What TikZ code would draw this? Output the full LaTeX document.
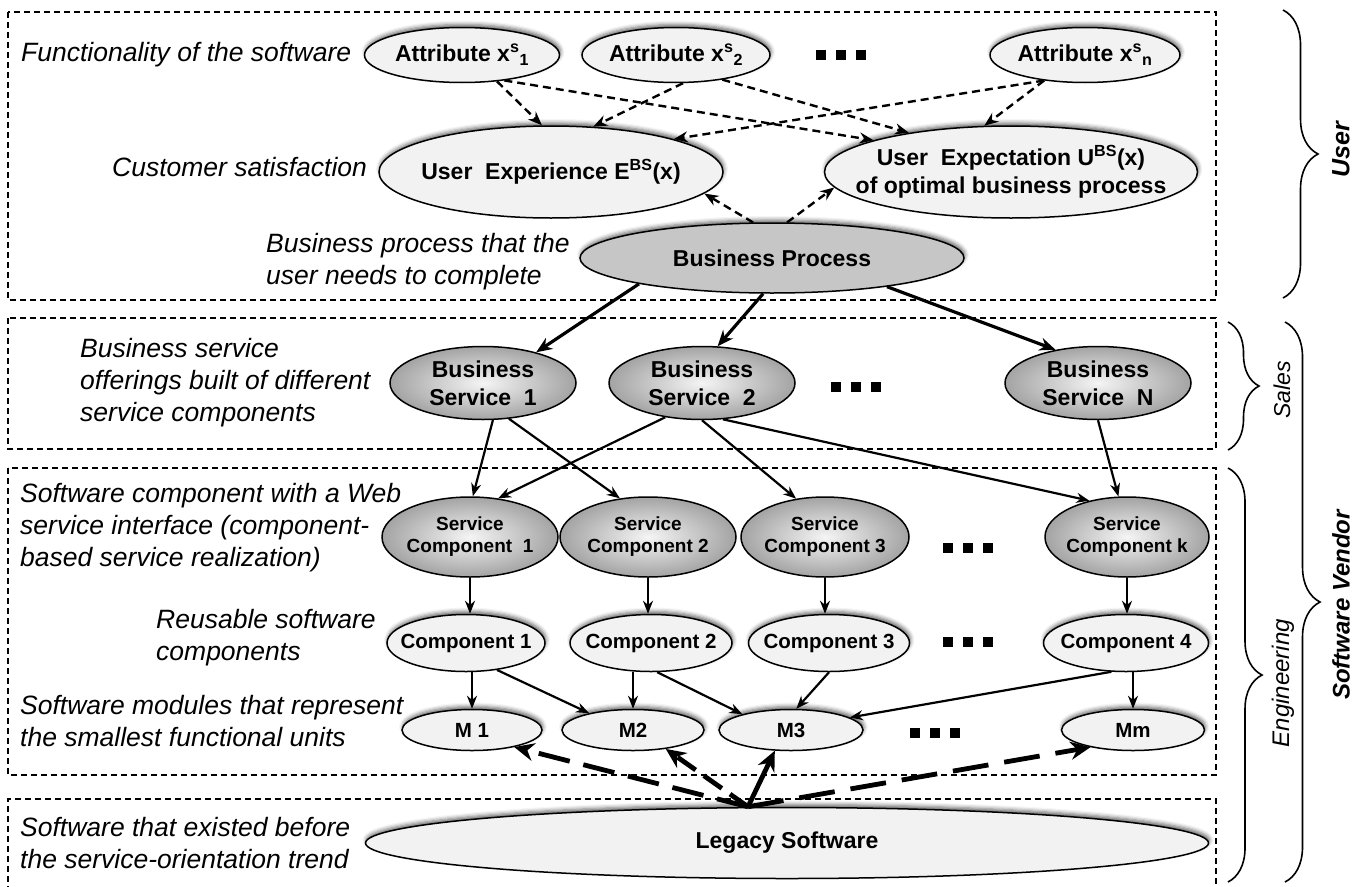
\documentclass[tikz,border=0pt]{standalone}
\usepackage{fontspec}
\setmainfont{Liberation Sans}
\usetikzlibrary{shapes.geometric,arrows.meta,decorations.pathreplacing,shadows.blur}
\newcommand\ndfont{\bfseries\fontsize{23}{28}\selectfont}
\newcommand\scpfont{\bfseries\fontsize{19}{22}\selectfont}
\newcommand\cmpfont{\bfseries\fontsize{20.5}{24}\selectfont}
\newcommand\lbfont{\itshape\fontsize{26.5}{32}\selectfont}
\newcommand\sqdots[2]{\foreach \dx in {-20,0,20}{\fill (#1+\dx-5,#2-5) rectangle ++(10,10);}}
\tikzset{
  shad/.style={blur shadow={shadow xshift=1pt, shadow yshift=3pt, shadow blur radius=4pt, shadow opacity=60}},
  lnode/.style={ellipse, draw, line width=1.5pt, fill=gray!10, inner xsep=-40pt, inner ysep=-2pt, align=center, font=\ndfont, shad},
  gnode/.style={ellipse, draw, line width=1.5pt, inner color=gray!8, outer color=gray!72, inner xsep=-40pt, inner ysep=-2pt, align=center, font=\ndfont},
  bpnode/.style={ellipse, draw, line width=1.5pt, fill=gray!45, inner xsep=-40pt, inner ysep=-2pt, align=center, font=\ndfont, shad},
  lab/.style={inner sep=0pt, anchor=west, align=left, font=\lbfont},
  box/.style={draw, line width=1.5pt, dash pattern=on 6pt off 4pt},
  darr/.style={line width=2.4pt, dash pattern=on 8pt off 5pt, -{Stealth[length=14pt,width=11pt]}},
  barr/.style={line width=3.2pt, -{Stealth[length=16pt,width=13pt]}},
  arr/.style={line width=2.2pt, -{Stealth[length=13pt,width=10pt]}},
  legarr/.style={line width=4.8pt, -{Stealth[length=20pt,width=18pt]}},
  brc/.style={draw, line width=1.6pt, decorate},
}
\begin{document}
\begin{tikzpicture}[x=1pt,y=-1pt]
\useasboundingbox (0,0) rectangle (1359,886);
% boxes
\draw[box] (8,12) rectangle (1216,300);
\draw[box] (8,318) rectangle (1216,449);
\draw[box] (8,468) rectangle (1216,775);
\draw[box] (8,892) -- (8,799) -- (1216,799) -- (1216,892);
% braces
\draw[brc, decoration={brace, amplitude=35pt}] (1283,10) -- (1283,298);
\draw[brc, decoration={brace, amplitude=31pt}] (1228,322) -- (1228,450);
\draw[brc, decoration={brace, amplitude=34pt}] (1228,468) -- (1228,882);
\draw[brc, decoration={brace, amplitude=35pt}] (1285,322) -- (1285,882);
\node[rotate=90, font=\bfseries\itshape\fontsize{25}{30}\selectfont] (tuser) at (1341,150) {User};
\node[rotate=90, font=\itshape\fontsize{23}{28}\selectfont] (tsales) at (1282,390) {Sales};
\node[rotate=90, font=\itshape\fontsize{24}{28}\selectfont] (teng) at (1283,683) {Engineering};
\node[rotate=90, font=\bfseries\itshape\fontsize{24}{28}\selectfont] (tsv) at (1341,605) {Software Vendor};
% labels
\node[lab] (l1) at (21,55) {Functionality of the software};
\node[lab] (l2) at (112,167) {Customer satisfaction};
\node[lab] (l3) at (266,262) {Business process that the\\user needs to complete};
\node[lab] (l4) at (80,383) {Business service\\offerings built of different\\service components};
\node[lab] (l5) at (20,528) {Software component with a Web\\service interface (component-\\based service realization)};
\node[lab] (l6) at (156,638) {Reusable software\\components};
\node[lab] (l7) at (20,721) {Software modules that represent\\the smallest functional units};
\node[lab] (l8) at (20,843) {Software that existed before\\the service-orientation trend};
% user layer
\node[lnode, minimum width=195pt, minimum height=55pt] (a1) at (462,55) {Attribute x\textsuperscript{s}\textsubscript{1}};
\node[lnode, minimum width=188pt, minimum height=55pt] (a2) at (676,55) {Attribute x\textsuperscript{s}\textsubscript{2}};
\node[lnode, minimum width=190pt, minimum height=55pt] (an) at (1085,55) {Attribute x\textsuperscript{s}\textsubscript{n}};
\sqdots{841}{55}
\node[lnode, minimum width=344pt, minimum height=92pt] (ue) at (551,172) {User~ Experience E\textsuperscript{BS}(x)};
\node[lnode, minimum width=373pt, minimum height=92pt] (ux) at (1011,172) {User~ Expectation U\textsuperscript{BS}(x)\\of optimal business process};
\node[bpnode, minimum width=384pt, minimum height=70pt] (bp) at (772,258) {Business Process};
\draw[darr] (a1.-37) -- (ue.101);
\draw[darr] (a1.-31) -- (ux.167);
\draw[darr] (a2.-28) -- (ux.159);
\draw[darr] (a2.-76) -- (ue.47);
\draw[darr] (an.-148) -- (ue.15);
\draw[darr] (an.-148) -- (ux.120);
\draw[darr] (bp.118) -- (ue.-8);
\draw[darr] (bp.67) -- (ux.-175);
% sales layer
\node[gnode, minimum width=186pt, minimum height=73pt] (bs1) at (483,383) {Business\\Service~ 1};
\node[gnode, minimum width=186pt, minimum height=73pt] (bs2) at (702,383) {Business\\Service~ 2};
\node[gnode, minimum width=186pt, minimum height=73pt] (bsn) at (1098,383) {Business\\Service~ N};
\sqdots{856}{387}
\draw[barr] (bp.-169) -- (bs1.30);
\draw[barr] (bp.-104) -- (bs2.67);
\draw[barr] (bp.-14) -- (bsn.142);
% engineering layer
\node[gnode, font=\scpfont, minimum width=176pt, minimum height=80pt] (sc1) at (470,537) {Service\\Component~ 1};
\node[gnode, font=\scpfont, minimum width=176pt, minimum height=80pt] (sc2) at (648,537) {Service\\Component 2};
\node[gnode, font=\scpfont, minimum width=168pt, minimum height=80pt] (sc3) at (825,537) {Service\\Component 3};
\node[gnode, font=\scpfont, minimum width=164pt, minimum height=80pt] (sck) at (1127,537) {Service\\Component k};
\sqdots{968}{548}
\draw[arr] (bs1.-75) -- (sc1.86);
\draw[arr] (bs1.-54) -- (sc2.126);
\draw[arr] (bs2.-137) -- (sc1.54);
\draw[arr] (bs2.-90) -- (sc3.127);
\draw[arr] (bs2.-60) -- (sck.136);
\draw[arr] (bsn.-90) -- (sck.102);
\node[lnode, font=\cmpfont, minimum width=158pt, minimum height=57pt] (c1) at (466,643) {Component 1};
\node[lnode, font=\cmpfont, minimum width=162pt, minimum height=57pt] (c2) at (651,643) {Component 2};
\node[lnode, font=\cmpfont, minimum width=161pt, minimum height=57pt] (c3) at (829,643) {Component 3};
\node[lnode, font=\cmpfont, minimum width=165pt, minimum height=57pt] (c4) at (1126,643) {Component 4};
\sqdots{968}{642}
\draw[arr] (sc1.south) -- (sc1.south |- c1.north);
\draw[arr] (sc2.south) -- (sc2.south |- c2.north);
\draw[arr] (sc3.south) -- (sc3.south |- c3.north);
\draw[arr] (sck.south) -- (sck.south |- c4.north);
\node[lnode, font=\cmpfont, minimum width=140pt, minimum height=41pt] (m1) at (472,730) {M 1};
\node[lnode, font=\cmpfont, minimum width=142pt, minimum height=41pt] (m2) at (633,730) {M2};
\node[lnode, font=\cmpfont, minimum width=144pt, minimum height=41pt] (m3) at (791,730) {M3};
\node[lnode, font=\cmpfont, minimum width=143pt, minimum height=41pt] (mm) at (1133,730) {Mm};
\sqdots{935}{733}
\draw[arr] (c1.south -| m1.north) -- (m1.north);
\draw[arr] (c1.-41) -- (m2.159);
\draw[arr] (c2.south -| m2.north) -- (m2.north);
\draw[arr] (c2.-78) -- (m3.162);
\draw[arr] (c3.south) -- (m3.76);
\draw[arr] (c4.-117) -- (m3.12);
\draw[arr] (c4.south -| mm.north) -- (mm.north);
% legacy
\node[lnode, minimum width=843pt, minimum height=71pt] (leg) at (787,843) {Legacy Software};
\coordinate (lo) at ([xshift=-39pt]leg.north);
\draw[legarr, dash pattern=on 32pt off 14pt] (lo) -- (m1.-22);
\draw[legarr, dash pattern=on 22pt off 10pt] (lo) -- (m2.-30);
\draw[legarr] (lo) -- (m3.-128);
\draw[legarr, dash pattern=on 36pt off 16pt] (lo) -- (mm.-158);
\end{tikzpicture}
\end{document}
